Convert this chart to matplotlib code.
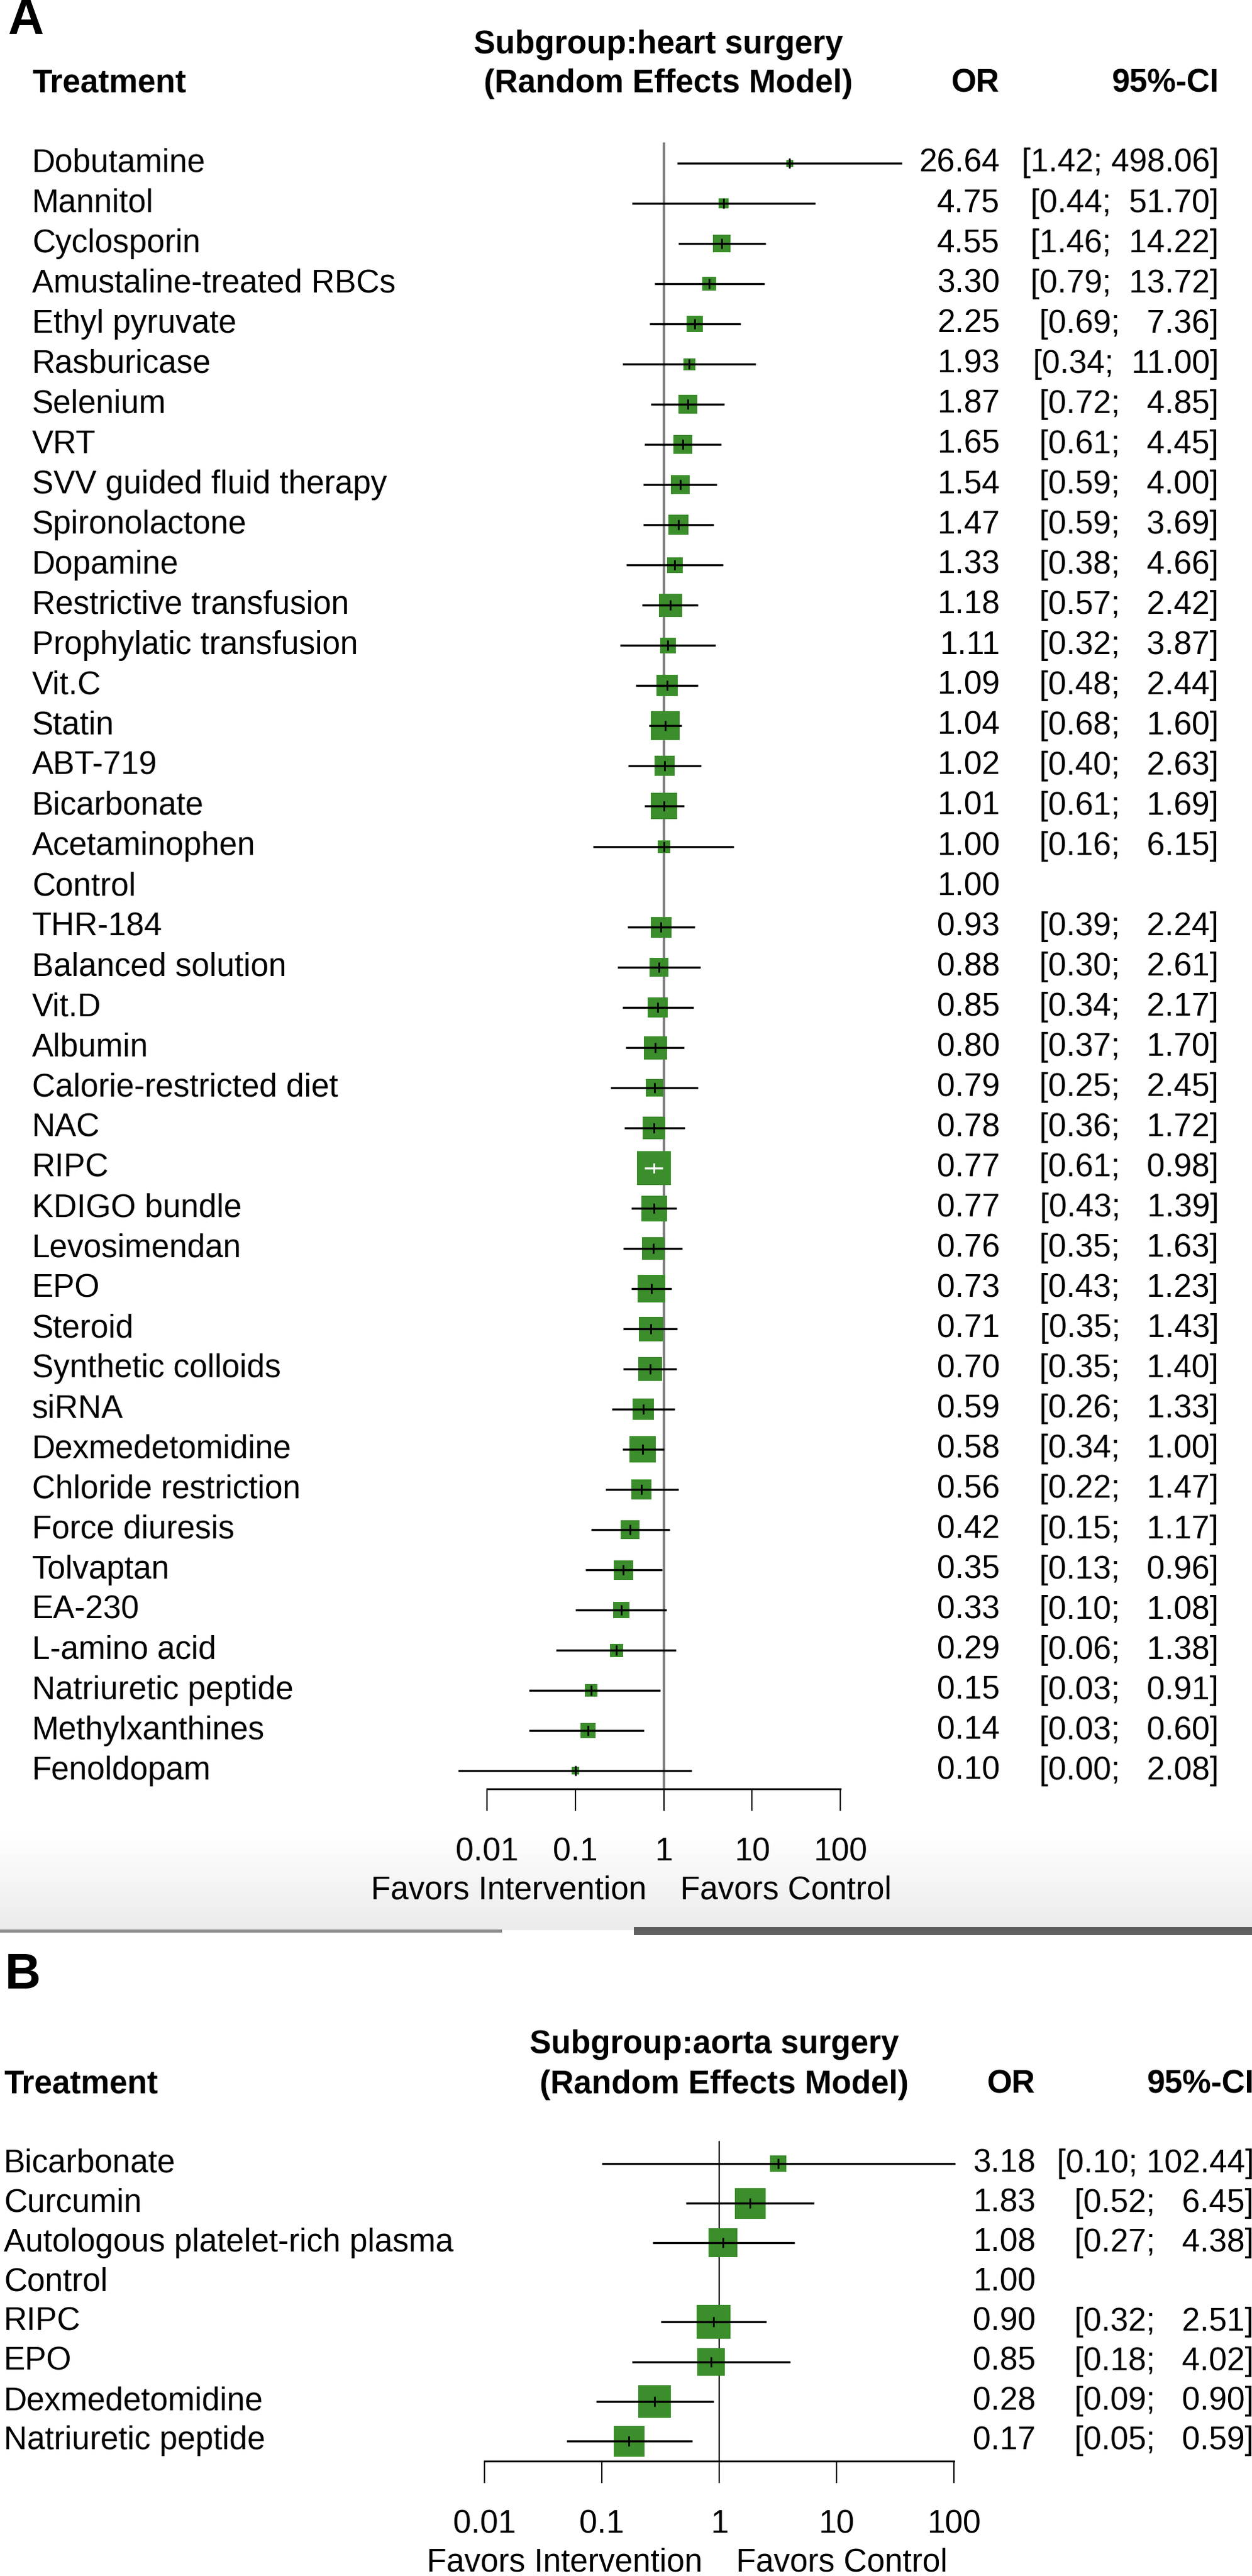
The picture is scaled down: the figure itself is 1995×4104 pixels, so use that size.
import numpy as np
import matplotlib
matplotlib.use('Agg')
import matplotlib.pyplot as plt
from matplotlib import transforms
from matplotlib.patches import Rectangle
from matplotlib.colors import LinearSegmentedColormap

W, H = 1995, 4104
plt.rcParams['font.family'] = ['Liberation Sans', 'DejaVu Sans']

GREEN = '#3b8e2b'
FS = 37

# ---- panel A: heart surgery ----
heart_names = ['Dobutamine', 'Mannitol', 'Cyclosporin', 'Amustaline-treated RBCs', 'Ethyl pyruvate',
               'Rasburicase', 'Selenium', 'VRT', 'SVV guided fluid therapy', 'Spironolactone',
               'Dopamine', 'Restrictive transfusion', 'Prophylatic transfusion', 'Vit.C', 'Statin',
               'ABT-719', 'Bicarbonate', 'Acetaminophen', 'Control', 'THR-184',
               'Balanced solution', 'Vit.D', 'Albumin', 'Calorie-restricted diet', 'NAC',
               'RIPC', 'KDIGO bundle', 'Levosimendan', 'EPO', 'Steroid',
               'Synthetic colloids', 'siRNA', 'Dexmedetomidine', 'Chloride restriction', 'Force diuresis',
               'Tolvaptan', 'EA-230', 'L-amino acid', 'Natriuretic peptide', 'Methylxanthines',
               'Fenoldopam']
heart_or = [26.64, 4.75, 4.55, 3.30, 2.25, 1.93, 1.87, 1.65, 1.54, 1.47,
            1.33, 1.18, 1.11, 1.09, 1.04, 1.02, 1.01, 1.00, 1.00, 0.93,
            0.88, 0.85, 0.80, 0.79, 0.78, 0.77, 0.77, 0.76, 0.73, 0.71,
            0.70, 0.59, 0.58, 0.56, 0.42, 0.35, 0.33, 0.29, 0.15, 0.14,
            0.10]
heart_lo = [1.42, 0.44, 1.46, 0.79, 0.69, 0.34, 0.72, 0.61, 0.59, 0.59,
            0.38, 0.57, 0.32, 0.48, 0.68, 0.40, 0.61, 0.16, np.nan, 0.39,
            0.30, 0.34, 0.37, 0.25, 0.36, 0.61, 0.43, 0.35, 0.43, 0.35,
            0.35, 0.26, 0.34, 0.22, 0.15, 0.13, 0.10, 0.06, 0.03, 0.03,
            0.0047]
heart_hi = [498.06, 51.70, 14.22, 13.72, 7.36, 11.00, 4.85, 4.45, 4.00, 3.69,
            4.66, 2.42, 3.87, 2.44, 1.60, 2.63, 1.69, 6.15, np.nan, 2.24,
            2.61, 2.17, 1.70, 2.45, 1.72, 0.98, 1.39, 1.63, 1.23, 1.43,
            1.40, 1.33, 1.00, 1.47, 1.17, 0.96, 1.08, 1.38, 0.91, 0.60,
            2.08]
# box side (px), proportional to weight
heart_box = [11, 16, 28, 23, 26, 19, 30, 30, 30, 32,
             25, 37, 25, 34, 46, 32, 43, 20, 0, 33,
             30, 32, 37, 28, 36, 54, 41, 36, 44, 39,
             38, 34, 43, 32, 30, 31, 27, 21, 20, 24,
             12]

# ---- panel B: aorta surgery ----
aorta_names = ['Bicarbonate', 'Curcumin', 'Autologous platelet-rich plasma', 'Control',
               'RIPC', 'EPO', 'Dexmedetomidine', 'Natriuretic peptide']
aorta_or = [3.18, 1.83, 1.08, 1.00, 0.90, 0.85, 0.28, 0.17]
aorta_lo = [0.10, 0.52, 0.27, np.nan, 0.32, 0.18, 0.09, 0.05]
aorta_hi = [102.44, 6.45, 4.38, np.nan, 2.51, 4.02, 0.90, 0.59]
aorta_box = [26, 49, 46, 0, 54, 44, 52, 49]

ticks = [0.01, 0.1, 1, 10, 100]
tick_labels = ['0.01', '0.1', '1', '10', '100']


def ci_strings(lo, hi):
    lo_s = ['' if np.isnan(v) else f'{v:.2f}' for v in lo]
    hi_s = ['' if np.isnan(v) else f'{v:.2f}' for v in hi]
    wl = max(len(s) for s in lo_s)
    wu = max(len(s) for s in hi_s)
    out = []
    for a, b in zip(lo_s, hi_s):
        out.append('' if a == '' else '[' + a.rjust(wl) + '; ' + b.rjust(wu) + ']')
    return out


def fx(x):
    return x / W


def fy(y):
    return 1 - y / H


fig = plt.figure(figsize=(W / 100, H / 100), dpi=100)

# screenshot band between the two panels
band = fig.add_axes([0, fy(3075), 1, (3075 - 2923) / H])
cmap = LinearSegmentedColormap.from_list('band', ['#ffffff', '#ebebeb'])
band.imshow(np.linspace(0, 1, 200)[:, None], aspect='auto', cmap=cmap, extent=(0, 1, 0, 1))
band.axis('off')
fig.add_artist(Rectangle((0, fy(3079)), fx(800), 5 / H, transform=fig.transFigure,
                         color='#8c8c8c', lw=0))
fig.add_artist(Rectangle((fx(1010), fy(3083)), fx(985), 13 / H, transform=fig.transFigure,
                         color='#3a3a3a', lw=0, alpha=0.8))


def draw_panel(names, ors, los, his, boxes, ax_x, ax_top, ax_bot, row0, drow,
               label_x, or_x, ci_x, subgroup, sub_y, head_y, sub_x, model_x,
               ref_color, ref_lw, letter, letter_xy):
    n = len(names)
    ax = fig.add_axes([fx(ax_x[0]), fy(ax_bot), fx(ax_x[1] - ax_x[0]), (ax_bot - ax_top) / H])
    ax.set_xscale('log')
    ax.set_xlim(0.01, 100)
    ax.set_ylim((ax_bot - row0) / drow, (ax_top - row0) / drow)
    ax.patch.set_alpha(0)
    for s in ['top', 'left', 'right']:
        ax.spines[s].set_visible(False)
    ax.spines['bottom'].set_linewidth(2.0)
    ax.set_yticks([])
    ax.set_xticks(ticks)
    ax.set_xticklabels(tick_labels)
    ax.minorticks_off()
    ax.tick_params(axis='x', length=25, width=1.5, pad=30, labelsize=FS)
    ax.axvline(1, color=ref_color, lw=ref_lw, zorder=1)

    fig.canvas.draw()
    for i in range(n):
        if boxes[i] > 0:
            ax.scatter(ors[i], i, s=(boxes[i] * 0.72) ** 2, marker='s', color=GREEN,
                       lw=0, zorder=2)
        if not np.isnan(los[i]):
            x0 = ax.transData.transform((los[i], i))[0]
            x1 = ax.transData.transform((his[i], i))[0]
            c = 'white' if (x1 - x0) < boxes[i] else 'black'
            ax.hlines(i, los[i], his[i], color=c, lw=2.4, zorder=3, clip_on=False)
            ax.plot(ors[i], i, marker='|', ms=11, mew=2.0, color=c, zorder=4, clip_on=False)

    trans = transforms.blended_transform_factory(fig.transFigure, ax.transData)
    cis = ci_strings(los, his)
    for i in range(n):
        fig.text(fx(label_x), 0, names[i], transform=trans, fontsize=FS, ha='left', va='center')
        fig.text(fx(or_x), 0, f'{ors[i]:.2f}', fontsize=FS, ha='right', va='center')
        fig.text(fx(ci_x), 0, cis[i], fontsize=FS, ha='right', va='center')
    for t in fig.texts[-3 * n:]:
        x = t.get_position()[0]
        t.set_transform(trans)
    for k, t in enumerate(fig.texts[-3 * n:]):
        t.set_position((t.get_position()[0], k // 3))

    # headers
    fig.text(fx(sub_x), fy(sub_y), subgroup, fontsize=FS, fontweight='bold', ha='center', va='center')
    fig.text(fx(model_x), fy(head_y), '(Random Effects Model)', fontsize=FS, fontweight='bold',
             ha='center', va='center')
    fig.text(fx(label_x), fy(head_y), 'Treatment', fontsize=FS, fontweight='bold', ha='left', va='center')
    fig.text(fx(or_x), fy(head_y), 'OR', fontsize=FS, fontweight='bold', ha='right', va='center')
    fig.text(fx(ci_x), fy(head_y), '95%-CI', fontsize=FS, fontweight='bold', ha='right', va='center')
    fig.text(fx(letter_xy[0]), fy(letter_xy[1]), letter, fontsize=57, fontweight='bold',
             ha='left', va='center')

    # favours labels under the axis
    ref_px = ax.transData.transform((1, 0))[0]
    fav_y = ax_bot + 162
    fig.text(fx(ref_px - 27), fy(fav_y), 'Favors Intervention', fontsize=FS, ha='right', va='center')
    fig.text(fx(ref_px + 27), fy(fav_y), 'Favors Control', fontsize=FS, ha='left', va='center')
    return ax


draw_panel(heart_names, heart_or, heart_lo, heart_hi, heart_box,
           ax_x=(776, 1339), ax_top=227, ax_bot=2850, row0=260, drow=64.03,
           label_x=51, or_x=1593, ci_x=1942, subgroup='Subgroup:heart surgery',
           sub_y=72, head_y=133, sub_x=1049, model_x=1065,
           ref_color='#808080', ref_lw=3.0, letter='A', letter_xy=(12, 33))

draw_panel(aorta_names, aorta_or, aorta_lo, aorta_hi, aorta_box,
           ax_x=(772, 1520), ax_top=3411, ax_bot=3921, row0=3447, drow=63.1,
           label_x=6, or_x=1650, ci_x=1998, subgroup='Subgroup:aorta surgery',
           sub_y=3258, head_y=3321, sub_x=1138, model_x=1154,
           ref_color='black', ref_lw=1.6, letter='B', letter_xy=(8, 3148))

fig.savefig('out.png', dpi=100, facecolor='white')
